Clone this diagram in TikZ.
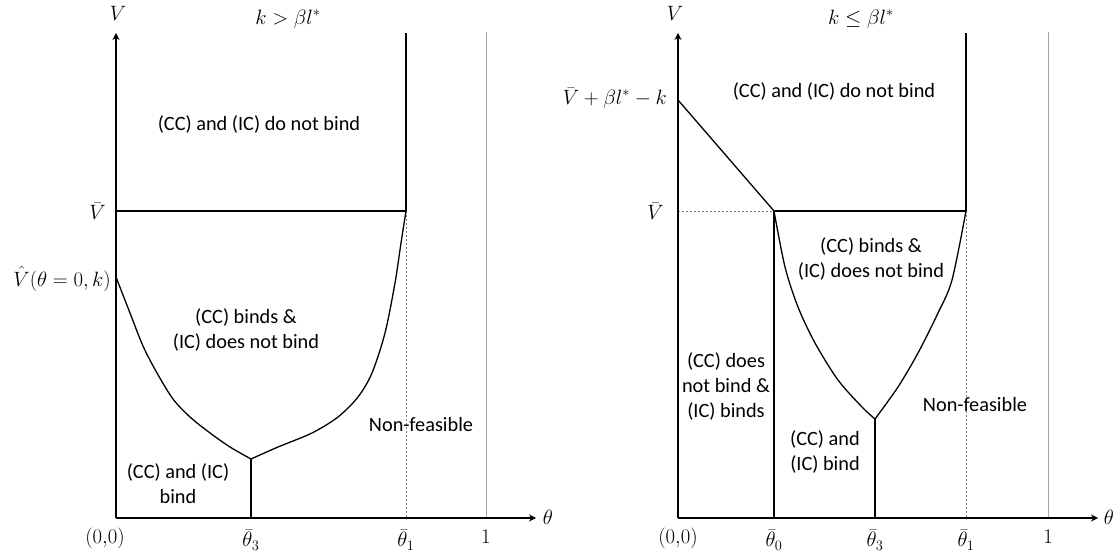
\documentclass[tikz,border=0pt]{standalone}
\usepackage[no-math]{fontspec}
\setmainfont{Carlito}
\usetikzlibrary{arrows.meta}
\begin{document}
\begin{tikzpicture}[x=1pt,y=-1pt,
  txt/.style={font=\fontsize{20.3}{25}\selectfont, align=center, inner sep=0pt},
  mth/.style={font=\fontsize{21.5}{26}\selectfont, inner sep=0pt},
  axisline/.style={line width=1.6pt, -{Stealth[length=7pt,width=7pt]}},
  bold line/.style={line width=1.5pt},
  curve line/.style={line width=1.3pt},
  dashline/.style={line width=0.6pt, gray, dash pattern=on 2pt off 2pt},
  oneline/.style={line width=1pt, gray!70}]
\useasboundingbox (0,0) rectangle (1117,556);

% ---------------- left panel ----------------
\coordinate (LO) at (116,518);
\coordinate (LVtop) at (116,33);
\coordinate (LX) at (536,518);
\coordinate (LVb) at (116,211);
\coordinate (LT1top) at (406,33);
\coordinate (LT1) at (406,211);
\coordinate (LT1b) at (406,518);
\coordinate (LOnetop) at (486,32);
\coordinate (LOne) at (486,518);
\coordinate (LVh) at (116,277);
\coordinate (LK) at (251,459);
\coordinate (LT3) at (251,518);

\draw[oneline] (LOnetop) -- (LOne);
\draw[dashline] (LT1) -- (LT1b);
\draw[axisline] (LO) -- (LVtop);
\draw[axisline] (LO) -- (LX);
\draw[bold line] (LT1top) -- (LT1);
\draw[bold line] (LVb) -- (LT1);
\draw[curve line] plot[smooth, tension=0.5] coordinates
  {(116,277) (130,313) (143,346) (157,373) (173,399) (190,417) (210,433) (230,447) (251,459)};
\draw[curve line] plot[smooth, tension=0.5] coordinates
  {(251,459) (278,447) (312,433) (338,417) (358,397) (372,373) (385,333) (395,283) (401,243) (406,211)};
\draw[bold line] (LK) -- (LT3);

\node[mth] (lV) at (118,13) {$V$};
\node[mth] (ltitle) at (288,19) {$k>\beta l^{*}$};
\node[mth, anchor=east] (lVbar) at (106,211) {$\bar V$};
\node[mth, anchor=east] (lVhat) at (111,279) {$\hat V(\theta=0,k)$};
\node[mth] (lth) at (548,517) {$\theta$};
\node[mth] (l00) at (105,538) {$(0{,}0)$};
\node[mth] (lt3) at (251,540) {$\bar\theta_3$};
\node[mth] (lt1) at (406,540) {$\bar\theta_1$};
\node[mth] (l1) at (486,537) {$1$};
\node[txt] (lnb) at (259,124) {(CC) and (IC) do not bind};
\node[txt] (lcc) at (246,330) {(CC) binds \&\\(IC) does not bind};
\node[txt] (lnf) at (421,425) {Non-feasible};
\node[txt] (lbb) at (178,484) {(CC) and (IC)\\bind};

% ---------------- right panel ----------------
\coordinate (RO) at (678,518);
\coordinate (RVtop) at (678,33);
\coordinate (RX) at (1098,518);
\coordinate (RVs) at (678,100);
\coordinate (RVb) at (678,211);
\coordinate (RT0) at (774,211);
\coordinate (RT0b) at (774,518);
\coordinate (RT1top) at (966,33);
\coordinate (RT1) at (966,211);
\coordinate (RT1b) at (966,518);
\coordinate (ROnetop) at (1048,32);
\coordinate (ROne) at (1048,518);
\coordinate (RK) at (875,419);
\coordinate (RT3) at (875,518);

\draw[oneline] (ROnetop) -- (ROne);
\draw[dashline] (RT1) -- (RT1b);
\draw[dashline] (RVb) -- (RT0);
\draw[axisline] (RO) -- (RVtop);
\draw[axisline] (RO) -- (RX);
\draw[bold line] (RT1top) -- (RT1);
\draw[bold line] (RT0) -- (RT1);
\draw[curve line] (RVs) -- (RT0);
\draw[curve line] (RT0) -- (RT0b);
\draw[curve line] plot[smooth, tension=0.5] coordinates
  {(774,211) (785,267) (798,307) (815,343) (838,380) (862,407) (875,419)};
\draw[curve line] plot[smooth, tension=0.5] coordinates
  {(875,419) (898,387) (918,353) (938,313) (952,280) (966,211)};
\draw[curve line] (RK) -- (RT3);

\node[mth] (rV) at (675,13) {$V$};
\node[mth] (rtitle) at (861,19) {$k\leq\beta l^{*}$};
\node[mth, anchor=east] (rVs) at (667,98) {$\bar V+\beta l^{*}-k$};
\node[mth, anchor=east] (rVbar) at (664,211) {$\bar V$};
\node[mth] (rth) at (1109,517) {$\theta$};
\node[mth] (r00) at (678,538) {$(0{,}0)$};
\node[mth] (rt0) at (774,540) {$\bar\theta_0$};
\node[mth] (rt3) at (875,540) {$\bar\theta_3$};
\node[mth] (rt1) at (966,540) {$\bar\theta_1$};
\node[mth] (r1) at (1048,537) {$1$};
\node[txt] (rnb) at (834,91) {(CC) and (IC) do not bind};
\node[txt] (rcc) at (871,259) {(CC) binds \&\\(IC) does not bind};
\node[txt] (rcd) at (726,386) {(CC) does\\not bind \&\\(IC) binds};
\node[txt] (rnf) at (975,405) {Non-feasible};
\node[txt] (rbb) at (825,452) {(CC) and\\(IC) bind};
\end{tikzpicture}
\end{document}
